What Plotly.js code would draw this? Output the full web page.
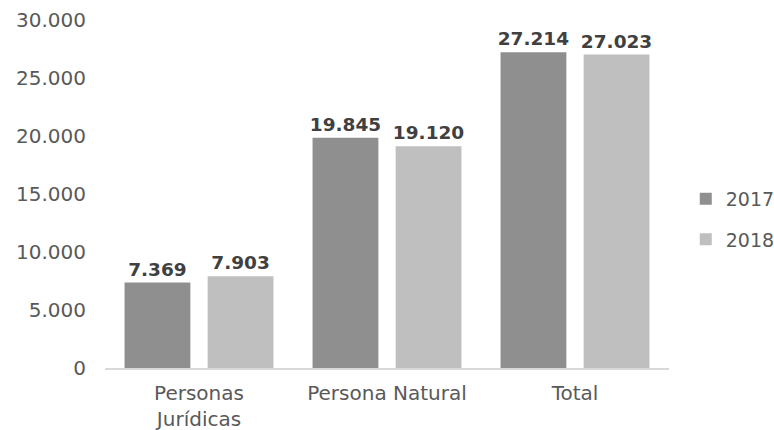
<!DOCTYPE html>
<html>
<head>
<meta charset="utf-8">
<script src="https://cdn.plot.ly/plotly-3.0.1.min.js"></script>
<style>html,body{margin:0;padding:0;background:#fff;}#chart{width:774px;height:430px;}</style>
</head>
<body>
<div id="chart"></div>
<script>
const categories = ["Personas<br>Jurídicas", "Persona Natural", "Total"];
const values2017 = [7369, 19845, 27214];
const values2018 = [7903, 19120, 27023];
const seriesNames = ["2017", "2018"];
const yTickVals = [0, 5000, 10000, 15000, 20000, 25000, 30000];
const yTickText = ["0", "5.000", "10.000", "15.000", "20.000", "25.000", "30.000"];

const fmt = v => v.toLocaleString('de-DE');
const FONT = "DejaVu Sans";

function barTrace(name, vals, color, group) {
  return {
    type: 'bar', name: name, x: categories, y: vals,
    marker: {color: color},
    text: vals.map(fmt), textposition: 'outside', cliponaxis: false,
    constraintext: 'none',
    textfont: {family: FONT, size: 18.5, color: '#404040', weight: 'bold'},
    legendgroup: group, hoverinfo: 'none'
  };
}

const data = [
  barTrace(seriesNames[0], values2017, '#8f8f8f', 'a'),
  barTrace(seriesNames[1], values2018, '#bfbfbf', 'b')
];

const layout = {
  width: 774, height: 430,
  margin: {l: 105, r: 105, t: 20, b: 62},
  paper_bgcolor: '#ffffff', plot_bgcolor: '#ffffff',
  font: {family: FONT, color: '#595959', size: 19},
  barmode: 'group', bargap: 0.116, bargroupgap: 0.208,
  showlegend: true,
  legend: {xref: 'container', yref: 'container', x: 0.886, y: 0.49, yanchor: 'middle', xanchor: 'left',
           font: {family: FONT, size: 19, color: '#595959'},
           traceorder: 'grouped', tracegroupgap: 13, itemwidth: 30},
  xaxis: {showline: true, linecolor: '#d9d9d9', linewidth: 2, ticks: '',
          tickfont: {family: FONT, size: 20, color: '#595959'}, ticklabelstandoff: 6,
          showgrid: false, fixedrange: true, automargin: false},
  yaxis: {range: [0, 30000], tickvals: yTickVals, ticktext: yTickText,
          showgrid: false, zeroline: false, showline: false, ticks: '',
          tickfont: {family: FONT, size: 20, color: '#595959'}, ticklabelstandoff: 18,
          fixedrange: true, automargin: false}
};

Plotly.newPlot('chart', data, layout, {displayModeBar: false, staticPlot: true});
</script>
</body>
</html>
